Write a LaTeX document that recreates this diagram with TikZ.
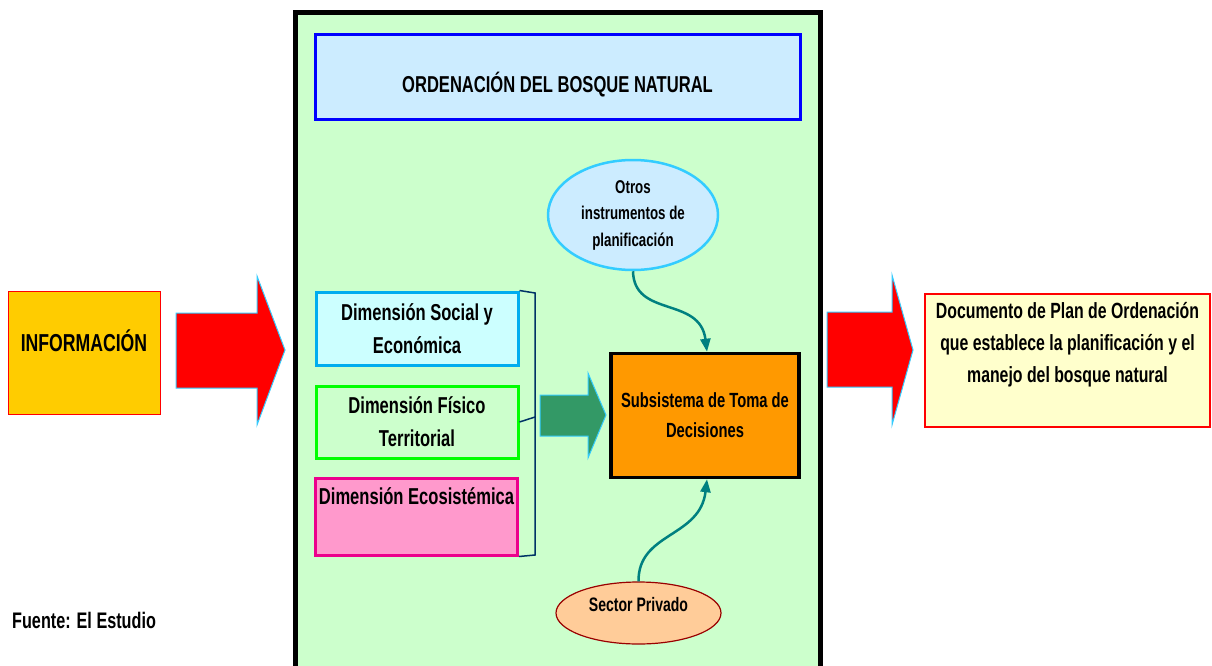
\documentclass[tikz,border=0pt]{standalone}
\usepackage{fontspec}
\setmainfont{Liberation Sans}[FakeStretch=0.72]
\usetikzlibrary{arrows.meta,shapes.geometric}
\definecolor{frameg}{HTML}{CCFFCC}
\definecolor{paleblue}{HTML}{CCECFF}
\definecolor{skyb}{HTML}{33CCFF}
\definecolor{palecyan}{HTML}{CCFFFF}
\definecolor{pinkf}{HTML}{FF99CC}
\definecolor{orangef}{HTML}{FF9900}
\definecolor{peach}{HTML}{FFCC99}
\definecolor{darkred}{HTML}{990000}
\definecolor{paleyel}{HTML}{FFFFCC}
\definecolor{goldf}{HTML}{FFCC00}
\definecolor{navy}{HTML}{003366}
\definecolor{seag}{HTML}{339966}
\definecolor{tealc}{HTML}{008080}
\begin{document}
\begin{tikzpicture}[x=1pt,y=-1pt,
  txt/.style={align=center,inner sep=0pt,font=\bfseries\fontsize{23}{33}\selectfont},
  smalltxt/.style={align=center,inner sep=0pt,font=\bfseries\fontsize{18.5}{26.5}\selectfont},
  dimbox/.style={draw,line width=3pt,minimum width=202pt,inner sep=0pt},
  blockarrow/.style={draw=skyb,line width=1pt},
  curve/.style={draw=tealc,line width=2.5pt,-{Triangle[length=13pt,width=10pt]}}
]
\useasboundingbox (0,0) rectangle (1212,666);
\fill[white] (0,0) rectangle (1212,666);

% main frame
\fill[frameg] (295.5,12.5) rectangle (820.5,666);
\draw[line width=5pt] (295.5,670) -- (295.5,12.5) -- (820.5,12.5) -- (820.5,670);

% title
\node[draw=blue,fill=paleblue,line width=3pt,minimum width=485pt,minimum height=85pt,inner sep=0pt] (title) at (557.5,77) {};
\node[txt] at ([yshift=-8pt]title.center) {ORDENACIÓN DEL BOSQUE NATURAL};

% información
\node[draw=red,fill=goldf,line width=1pt,minimum width=152pt,minimum height=123pt,inner sep=0pt] (info) at (84,352.5) {};
\node[txt,font=\bfseries\fontsize{24.5}{30}\selectfont] at ([yshift=12pt]info.center) {INFORMACIÓN};

% red arrow left
\filldraw[fill=red,blockarrow] (176,313) -- (257,313) -- (257,276) -- (285,350) -- (257,425) -- (257,388) -- (176,388) -- cycle;

% otros instrumentos
\node[ellipse,draw=skyb,fill=paleblue,line width=2.5pt,minimum width=170pt,minimum height=110pt,inner sep=0pt] (otros) at (633,215) {};
\node[smalltxt] at (otros.center) {Otros\\instrumentos de\\planificación};

% dimensions
\node[dimbox,draw=cyan,fill=palecyan,minimum height=73pt] (social) at (417,328.5) {};
\node[txt] at (social.center) {Dimensión Social y\\Económica};
\node[dimbox,draw=green,fill=frameg,minimum height=72pt] (fisico) at (417,422) {};
\node[txt] at (fisico.center) {Dimensión Físico\\Territorial};
\node[dimbox,draw=magenta,fill=pinkf,minimum height=77pt] (eco) at (416.5,516.5) {};
\node[txt] at ([yshift=20pt]eco.center) {Dimensión Ecosistémica};

% bracket
\draw[navy,line width=1.5pt] (social.north east) -- (535,293) -- (535,555) -- (eco.south east);
\draw[navy,line width=1.5pt] (fisico.east) -- (535,417);

% green arrow
\filldraw[fill=seag,blockarrow] (540,395) -- (588,395) -- (588,373) -- (606,415) -- (588,458) -- (588,436) -- (540,436) -- cycle;

% subsistema
\node[draw=black,fill=orangef,line width=3.5pt,minimum width=188pt,minimum height=124pt,inner sep=0pt] (sub) at (705,415.5) {};
\node[txt,font=\bfseries\fontsize{20.5}{30}\selectfont] at (sub.center) {Subsistema de Toma de\\Decisiones};

% sector privado
\node[ellipse,draw=darkred,fill=peach,line width=1.2pt,minimum width=165pt,minimum height=62pt,inner sep=0pt] (sector) at (638.5,613) {};
\node[smalltxt,font=\bfseries\fontsize{19.5}{26}\selectfont] at ([yshift=8pt]sector.center) {Sector Privado};

% curves
\draw[curve] (otros.south) .. controls (634,318) and (700,296) .. ([xshift=2pt]sub.north);
\draw[curve] (sector.north) .. controls (638,532) and (700,538) .. ([xshift=2pt]sub.south);

% red arrow right
\filldraw[fill=red,blockarrow] (827,312) -- (892,312) -- (892,275) -- (913,350) -- (892,425) -- (892,387) -- (827,387) -- cycle;

% documento
\node[draw=red,fill=paleyel,line width=1.2pt,minimum width=285pt,minimum height=133pt,inner sep=0pt] (doc) at (1067.5,360.5) {};
\node[txt,font=\bfseries\fontsize{22}{32}\selectfont] at ([yshift=16pt]doc.center) {Documento de Plan de Ordenación\\que establece la planificación y el\\manejo del bosque natural};

% fuente
\node[txt,anchor=west,font=\bfseries\fontsize{22.5}{25}\selectfont] (fuente) at (12,620) {Fuente: El Estudio};
\end{tikzpicture}
\end{document}
